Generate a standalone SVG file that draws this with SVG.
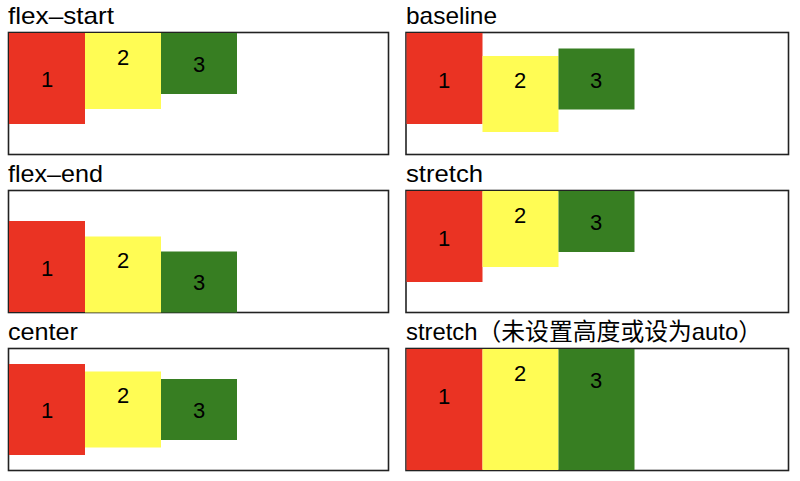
<svg xmlns="http://www.w3.org/2000/svg" width="800" height="481" viewBox="0 0 800 481">
<style>
text{font-family:"Liberation Sans","Noto Sans CJK SC",sans-serif;fill:#000}
.t{font-size:24px}
.d{font-size:22px;text-anchor:middle}
.box{fill:#fff;stroke:#222;stroke-width:1.6}
.r{fill:#EA3323}
.y{fill:#FFFC54}
.g{fill:#377E22}
</style>
<rect width="800" height="481" fill="#fff"/>
<g id="flex-start">
<text class="t" x="8" y="24" textLength="106" lengthAdjust="spacingAndGlyphs">flex–start</text>
<rect class="box" x="8.5" y="32.5" width="380" height="122"/>
<g id="fs1"><rect class="r" x="9" y="33" width="76" height="91"/><text class="d" x="47" y="87">1</text></g>
<g id="fs2"><rect class="y" x="85" y="33" width="76" height="76"/><text class="d" x="123" y="65">2</text></g>
<g id="fs3"><rect class="g" x="161" y="33" width="76" height="61"/><text class="d" x="199" y="72">3</text></g>
</g>
<g id="baseline">
<text class="t" x="406" y="24" textLength="91" lengthAdjust="spacingAndGlyphs">baseline</text>
<rect class="box" x="406" y="32.5" width="382.5" height="122"/>
<g id="bl1"><rect class="r" x="406.5" y="33" width="76" height="91"/><text class="d" x="444" y="88">1</text></g>
<g id="bl2"><rect class="y" x="482.5" y="56" width="76" height="76"/><text class="d" x="520" y="88">2</text></g>
<g id="bl3"><rect class="g" x="558.5" y="48.5" width="76" height="61"/><text class="d" x="596" y="88">3</text></g>
</g>
<g id="flex-end">
<text class="t" x="8" y="182" textLength="95" lengthAdjust="spacingAndGlyphs">flex–end</text>
<rect class="box" x="8.5" y="190.5" width="380" height="122"/>
<g id="fe1"><rect class="r" x="9" y="221" width="76" height="91"/><text class="d" x="47" y="276">1</text></g>
<g id="fe2"><rect class="y" x="85" y="236.5" width="76" height="76"/><text class="d" x="123" y="268">2</text></g>
<g id="fe3"><rect class="g" x="161" y="251.5" width="76" height="61"/><text class="d" x="199" y="290">3</text></g>
</g>
<g id="stretch">
<text class="t" x="406" y="182" textLength="77" lengthAdjust="spacingAndGlyphs">stretch</text>
<rect class="box" x="406" y="190.5" width="382.5" height="122"/>
<g id="st1"><rect class="r" x="406.5" y="191" width="76" height="91"/><text class="d" x="444" y="246">1</text></g>
<g id="st2"><rect class="y" x="482.5" y="191" width="76" height="76"/><text class="d" x="520" y="223">2</text></g>
<g id="st3"><rect class="g" x="558.5" y="191" width="76" height="61"/><text class="d" x="596" y="230">3</text></g>
</g>
<g id="center">
<text class="t" x="8" y="340" textLength="70" lengthAdjust="spacingAndGlyphs">center</text>
<rect class="box" x="8.5" y="348.5" width="380" height="122"/>
<g id="ce1"><rect class="r" x="9" y="364" width="76" height="91"/><text class="d" x="47" y="418">1</text></g>
<g id="ce2"><rect class="y" x="85" y="371.5" width="76" height="76"/><text class="d" x="123" y="403">2</text></g>
<g id="ce3"><rect class="g" x="161" y="379" width="76" height="61"/><text class="d" x="199" y="418">3</text></g>
</g>
<g id="stretch-auto">
<text class="t" x="406" y="340" textLength="356" lengthAdjust="spacingAndGlyphs">stretch（未设置高度或设为auto）</text>
<rect class="box" x="406" y="348.5" width="382.5" height="122"/>
<g id="sa1"><rect class="r" x="406.5" y="349" width="76" height="121"/><text class="d" x="444" y="404">1</text></g>
<g id="sa2"><rect class="y" x="482.5" y="349" width="76" height="121"/><text class="d" x="520" y="381">2</text></g>
<g id="sa3"><rect class="g" x="558.5" y="349" width="76" height="121"/><text class="d" x="596" y="388">3</text></g>
</g>
</svg>
